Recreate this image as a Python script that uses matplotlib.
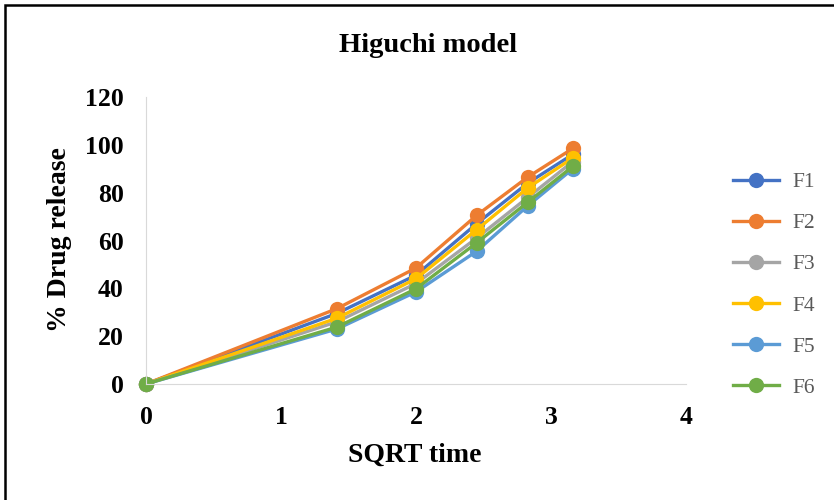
import numpy as np
import matplotlib.pyplot as plt
from matplotlib.patches import Rectangle

# sqrt of time (0, 2, 4, 6, 8, 10 h)
sqrt_time = [0, 1.414, 2, 2.449, 2.828, 3.162]

series_names = ['F1', 'F2', 'F3', 'F4', 'F5', 'F6']
f1 = [0, 29.5, 45.5, 67.0, 84.0, 96.0]
f2 = [0, 31.5, 48.5, 70.5, 86.5, 98.5]
f3 = [0, 26.0, 42.0, 61.0, 78.0, 93.0]
f4 = [0, 27.5, 44.0, 64.5, 82.0, 94.5]
f5 = [0, 23.0, 38.5, 55.5, 74.5, 90.0]
f6 = [0, 23.8, 39.8, 59.0, 76.0, 91.0]

colors = ['#4472C4', '#ED7D31', '#A5A5A5', '#FFC000', '#5B9BD5', '#70AD47']

serif = ['Liberation Serif', 'DejaVu Serif']

fig = plt.figure(figsize=(8.34, 5), dpi=100)
ax = fig.add_axes([0.175, 0.232, 0.6475, 0.574])

for name, vals, c in zip(series_names, [f1, f2, f3, f4, f5, f6], colors):
    ax.plot(sqrt_time, vals, color=c, lw=2.4, marker='o', ms=11,
            markeredgewidth=0, label=name)

ax.set_xlim(0, 4)
ax.set_ylim(0, 120)
ax.set_xticks([0, 1, 2, 3, 4])
ax.set_yticks(np.arange(0, 121, 20))
ax.tick_params(length=0)
ax.tick_params(axis='y', pad=16)
ax.tick_params(axis='x', pad=16)
for lab in ax.get_xticklabels() + ax.get_yticklabels():
    lab.set_family(serif)
    lab.set_fontweight('bold')
    lab.set_fontsize(18.5)
    lab.set_color('black')

for s in ['top', 'right']:
    ax.spines[s].set_visible(False)
ax.spines['left'].set_color('#D9D9D9')
ax.spines['bottom'].set_color('#D9D9D9')
for line in ax.lines:
    line.set_clip_on(False)

fig.text(428 / 834, 1 - 45 / 500, 'Higuchi model', ha='center', va='center',
         family=serif, fontweight='bold', fontsize=20.5)
fig.text(415 / 834, 1 - 455 / 500, 'SQRT time', ha='center', va='center',
         family=serif, fontweight='bold', fontsize=20)
fig.text(60 / 834, 1 - 240 / 500, '% Drug release', ha='center', va='center',
         rotation=90, family=serif, fontweight='bold', fontsize=20)

leg = fig.legend(loc='center left', bbox_to_anchor=(714 / 834, 1 - 285 / 500),
                 frameon=False, prop={'family': serif, 'size': 15.5},
                 handlelength=2.1, labelspacing=0.98, handletextpad=0.65)
for t in leg.get_texts():
    t.set_color('#595959')

fig.patches.append(Rectangle((5 / 834, -0.05), 1.1, 1 - 5 / 500 + 0.05,
                             transform=fig.transFigure, fill=False,
                             edgecolor='black', lw=1.8))

fig.savefig('out.png', dpi=100)
